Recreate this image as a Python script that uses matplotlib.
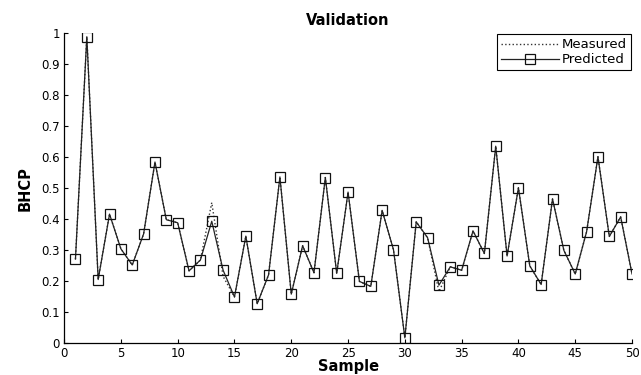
import numpy as np
import matplotlib.pyplot as plt

plt.rcParams['font.family'] = ['DejaVu Sans']

samples = np.arange(1, 51)
predicted = [0.271, 0.988, 0.205, 0.416, 0.304, 0.252, 0.352, 0.584, 0.398, 0.388,
             0.233, 0.268, 0.393, 0.235, 0.149, 0.345, 0.127, 0.220, 0.536, 0.158,
             0.314, 0.227, 0.534, 0.225, 0.487, 0.199, 0.183, 0.428, 0.301, 0.017,
             0.391, 0.340, 0.187, 0.246, 0.235, 0.362, 0.289, 0.635, 0.281, 0.501,
             0.249, 0.189, 0.465, 0.299, 0.223, 0.359, 0.601, 0.344, 0.407, 0.223]
measured = [0.271, 0.988, 0.205, 0.416, 0.304, 0.252, 0.352, 0.584, 0.398, 0.388,
            0.233, 0.268, 0.453, 0.215, 0.149, 0.345, 0.127, 0.220, 0.536, 0.158,
            0.314, 0.227, 0.534, 0.225, 0.487, 0.199, 0.183, 0.428, 0.301, 0.017,
            0.391, 0.340, 0.166, 0.246, 0.235, 0.362, 0.289, 0.635, 0.281, 0.501,
            0.249, 0.189, 0.465, 0.299, 0.223, 0.359, 0.601, 0.344, 0.407, 0.223]

fig = plt.figure(figsize=(6.41, 3.75), dpi=100)
ax = fig.add_axes([0.1, 0.085, 0.886, 0.827])

ax.plot(samples, measured, ':', color='#333333', lw=1, label='Measured')
ax.plot(samples, predicted, '-s', color='#222222', lw=0.9, mfc='none', mec='#111111',
        ms=7, mew=0.9, label='Predicted')

ax.set_xlim(0, 50)
ax.set_ylim(0, 1)
ax.set_xticks(np.arange(0, 51, 5))
ax.set_yticks(np.arange(0, 1.01, 0.1))
ax.set_yticklabels(['0', '0.1', '0.2', '0.3', '0.4', '0.5', '0.6', '0.7', '0.8', '0.9', '1'])
ax.tick_params(direction='in', length=3, labelsize=8.5, width=0.8, pad=3)
for s in ['top', 'right']:
    ax.spines[s].set_visible(False)
for s in ['left', 'bottom']:
    ax.spines[s].set_linewidth(0.9)

ax.set_title('Validation', fontweight='bold', fontsize=10.5, pad=6)
ax.set_xlabel('Sample', fontweight='bold', fontsize=10.5, labelpad=-1)
ax.set_ylabel('BHCP', fontweight='bold', fontsize=10.5, labelpad=6)

leg = ax.legend(loc='upper right', fontsize=9.5, fancybox=False, edgecolor='black',
                framealpha=1, borderpad=0.3, handlelength=4.4, labelspacing=0.15,
                handletextpad=0.2, borderaxespad=0.1)
leg.get_frame().set_linewidth(0.8)

fig.savefig('out.png', dpi=100)
